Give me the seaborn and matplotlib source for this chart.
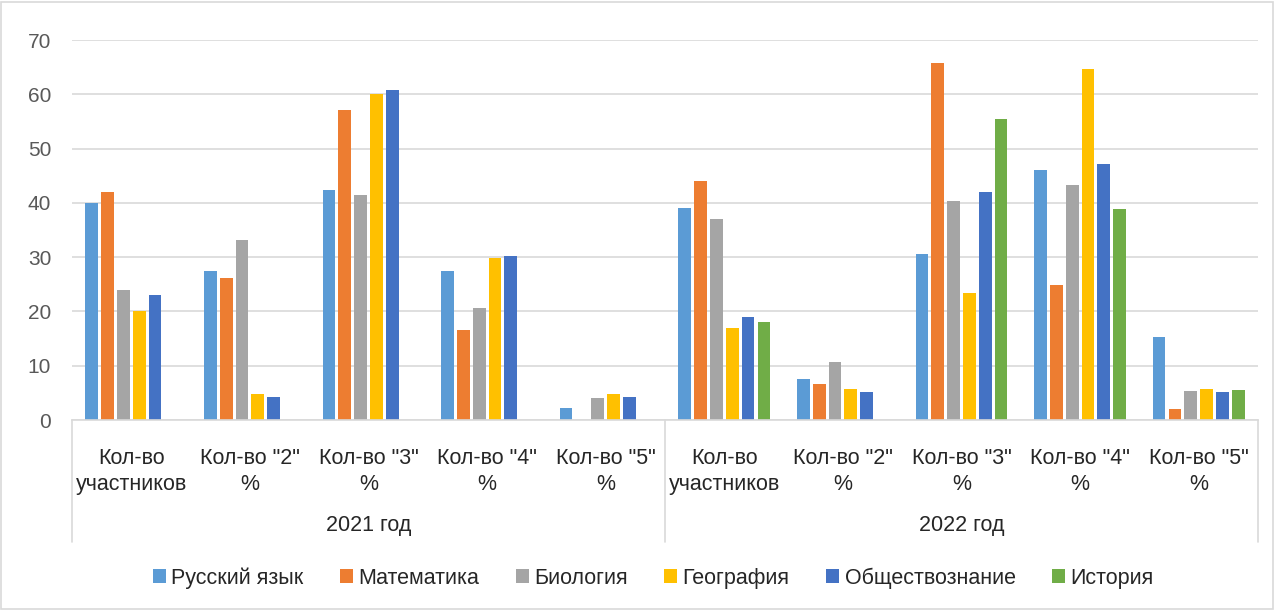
import numpy as np
import pandas as pd
import matplotlib
matplotlib.use("Agg")
import matplotlib.pyplot as plt
import matplotlib.transforms as mtransforms
from matplotlib.patches import Patch, Rectangle
import seaborn as sns

categories = ['Кол-во\nучастников', 'Кол-во "2"\n%', 'Кол-во "3"\n%', 'Кол-во "4"\n%', 'Кол-во "5"\n%',
              'Кол-во\nучастников', 'Кол-во "2"\n%', 'Кол-во "3"\n%', 'Кол-во "4"\n%', 'Кол-во "5"\n%']
years = ['2021 год', '2022 год']
subjects = ['Русский язык', 'Математика', 'Биология', 'География', 'Обществознание', 'История']
colors = ['#5B9BD5', '#ED7D31', '#A5A5A5', '#FFC000', '#4472C4', '#70AD47']

russian = [40, 27.4, 42.3, 27.4, 2.3, 39, 7.5, 30.6, 46.0, 15.2]
math_ = [42, 26.1, 57.1, 16.5, 0, 44, 6.7, 65.8, 24.8, 2.1]
biology = [24, 33.2, 41.5, 20.7, 4.0, 37, 10.7, 40.4, 43.2, 5.3]
geography = [20, 4.8, 60, 29.9, 4.8, 17, 5.7, 23.4, 64.6, 5.7]
social = [23, 4.2, 60.8, 30.3, 4.2, 19, 5.2, 42.0, 47.2, 5.2]
history = [np.nan, np.nan, np.nan, np.nan, np.nan, 18, np.nan, 55.5, 38.8, 5.5]

series = [russian, math_, biology, geography, social, history]
rows = []
for subj, vals in zip(subjects, series):
    for i, v in enumerate(vals):
        rows.append({'pos': i, 'subject': subj, 'value': v})
df = pd.DataFrame(rows)

sns.set_theme(style="white")
plt.rcParams['font.family'] = ['Liberation Sans', 'DejaVu Sans']
text_color = '#262626'
ytick_color = '#595959'
grid_color = '#d9d9d9'
fs = 15.5

fig = plt.figure(figsize=(12.76, 6.10), dpi=100)
ax = fig.add_axes([72/1276, 1-420/610, (1258-72)/1276, 380/610])

sns.barplot(data=df, x='pos', y='value', hue='subject', hue_order=subjects,
            palette=colors, saturation=1, width=0.8, ax=ax, legend=False,
            native_scale=True, errorbar=None)

# shrink bars to leave small gaps like Excel
for p in ax.patches:
    w = p.get_width()
    nw = w * 0.8
    p.set_x(p.get_x() + (w - nw) / 2)
    p.set_width(nw)
    p.set_linewidth(0)

ax.set_xlim(-0.5, 9.5)
ax.set_ylim(0, 70)
ax.set_yticks(range(0, 71, 10))
ax.yaxis.grid(True, color=grid_color, linewidth=1.2)
ax.set_axisbelow(True)
for s in ['top', 'right', 'left']:
    ax.spines[s].set_visible(False)
ax.spines['bottom'].set_color(grid_color)
ax.spines['bottom'].set_linewidth(1.2)
ax.set_xticks(range(10))
ax.set_xticklabels(categories, fontsize=fs, color=text_color, linespacing=1.35)
ax.tick_params(axis='x', length=0, pad=20)
ax.tick_params(axis='y', length=0, pad=15, labelsize=15, labelcolor=ytick_color)
ax.set_xlabel('')
ax.set_ylabel('')

trans = mtransforms.blended_transform_factory(ax.transData, ax.transAxes)
for xs in [-0.5, 4.5, 9.5]:
    ax.plot([xs, xs], [0, -122/380], transform=trans, color=grid_color,
            linewidth=1.2, clip_on=False)
for j, yr in enumerate(years):
    ax.text(2 + 5*j, -106/380, yr, transform=trans, ha='center', va='center',
            fontsize=fs, color=text_color)

handles = [Patch(facecolor=c, edgecolor='none') for c in colors]
fig.legend(handles, subjects, loc='center', bbox_to_anchor=(0.512, 1-578/610), ncol=6,
           frameon=False, fontsize=fs, labelcolor=text_color, handlelength=0.6,
           handleheight=0.6, handletextpad=0.25, columnspacing=1.7)

fig.patches.append(Rectangle((0.001, 0.002), 0.997, 0.995, transform=fig.transFigure,
                             fill=False, edgecolor=grid_color, linewidth=1.2))

fig.savefig('out.png', dpi=100, facecolor='white')
